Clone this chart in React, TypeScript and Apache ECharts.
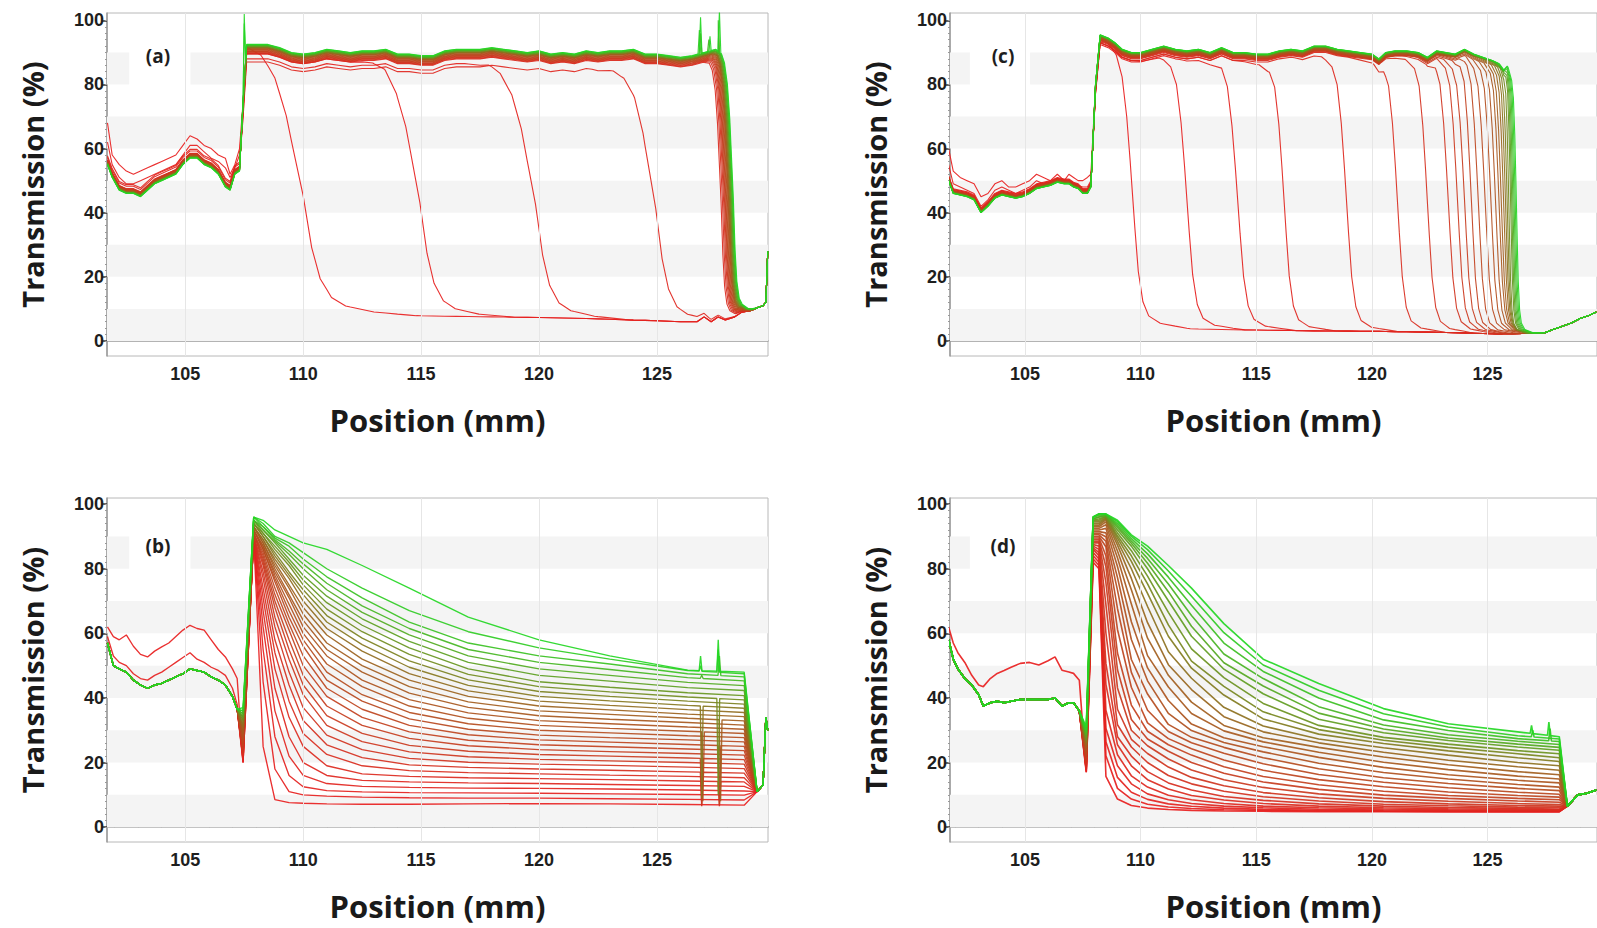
import React, { useEffect, useRef } from "react";
import * as echarts from "echarts";

// ---------------- shared axis values ----------------
const yTickValues = [0, 20, 40, 60, 80, 100];
const yMinorTicks = [0, 2, 4, 6, 8, 10, 12, 14, 16, 18, 20, 22, 24, 26, 28, 30, 32, 34, 36, 38, 40, 42, 44, 46, 48, 50, 52, 54, 56, 58, 60, 62, 64, 66, 68, 70, 72, 74, 76, 78, 80, 82, 84, 86, 88, 90, 92, 94, 96, 98, 100];
const xLabelValues = [105, 110, 115, 120, 125];
const xMinorTicks = [102, 103, 104, 105, 106, 107, 108, 109, 110, 111, 112, 113, 114, 115, 116, 117, 118, 119, 120, 121, 122, 123, 124, 125, 126, 127, 128, 129];
const bandRanges = [[0, 10], [20, 30], [40, 50], [60, 70]];
const gridLineValues = [105, 110, 115, 120, 125];

// ---------------- panel (a) ----------------
const aLeftX = [101.7, 101.9, 102.2, 102.5, 102.8, 103.1, 103.4, 103.7, 104.0, 104.3, 104.6, 104.9, 105.2, 105.5, 105.8, 106.1, 106.4, 106.7, 106.9, 107.1, 107.3];
const aLeftMain = [55, 51, 47, 46, 46, 45, 47, 49, 50, 51, 52, 55, 57, 57, 55, 54, 52, 48, 47, 52, 53];
const aLeftUpper = [68, 58, 55, 53, 52, 53, 54, 55, 56, 57, 58, 61, 64, 63, 61, 60, 58, 57, 52, 55, 60];
const aLeftSecond = [62, 55, 51, 49, 49, 50, 51, 52, 53, 54, 55, 58, 61, 61, 59, 57, 56, 54, 51, 54, 58];
const aPlatX = [107.45, 107.6, 108.0, 108.5, 109.0, 109.5, 110.0, 110.5, 111.0, 111.5, 112.0, 112.5, 113.0, 113.5, 114.0, 114.5, 115.0, 115.5, 116.0, 116.5, 117.0, 117.5, 118.0, 118.5, 119.0, 119.5, 120.0, 120.5, 121.0, 121.5, 122.0, 122.5, 123.0, 123.5, 124.0, 124.5, 125.0, 125.5, 126.0, 126.5, 127.0, 127.5, 127.9];
const aPlat = [75, 92.5, 92.5, 92.5, 91.5, 90, 89.5, 90, 91, 90.5, 90, 90.5, 90.5, 91, 89.5, 89.5, 89, 89, 90.5, 91, 91, 91, 91.5, 91, 90.5, 90, 90.5, 89.5, 90, 89.5, 90.5, 90, 90.5, 90.5, 91, 89.5, 89.5, 89, 88.5, 89, 90, 91, 90];
const aBotX = [108.5, 110, 111, 112, 113, 114, 116, 118, 120, 122, 124, 125, 126, 126.7, 127.0, 127.3, 127.6, 127.9, 128.3, 128.6, 129.0, 129.3, 129.5, 129.62, 129.7];
const aBot = [9.5, 9, 8.7, 8.4, 8.2, 8, 7.7, 7.5, 7.3, 7, 6.5, 6.3, 6, 6, 7.5, 6, 7.5, 6.5, 7.5, 9, 9.5, 10.5, 11, 12, 28];
const aFronts = [110.0, 114.95, 119.85, 124.95, 127.72, 127.78, 127.83, 127.87, 127.9, 127.93, 127.96, 127.99, 128.02, 128.04, 128.06, 128.08, 128.1, 128.12, 128.14, 128.16, 128.18, 128.2, 128.22, 128.24];
const aWidths = [1.2, 1.0, 1.0, 0.9, 0.25, 0.25, 0.25, 0.25, 0.25, 0.25, 0.25, 0.25, 0.25, 0.25, 0.25, 0.25, 0.25, 0.25, 0.25, 0.25, 0.25, 0.25, 0.25, 0.25];
const aOffsets = [0, 3, 4.5, 5.5, 3, 2.8, 2.6, 2.4, 2.2, 2, 1.8, 1.6, 1.4, 1.2, 1.1, 1, 0.9, 0.8, 0.6, 0.5, 0.4, 0.3, 0.1, 0];
const aDropT = [-3, -2, -1.5, -1, -0.6, -0.3, 0, 0.3, 0.6, 1, 1.5, 2.5, 4];
const aDropS = [1, 0.99, 0.96, 0.88, 0.75, 0.6, 0.45, 0.25, 0.13, 0.06, 0.03, 0.01, 0];
const aSpikes = [[23, 107.5, 102], [22, 107.5, 99], [23, 126.85, 101], [22, 126.8, 97], [23, 127.25, 95], [23, 127.65, 103], [21, 127.6, 100], [20, 127.2, 94], [19, 126.85, 96], [18, 127.62, 98]];

// ---------------- panel (c) ----------------
const cLeftX = [101.7, 101.9, 102.2, 102.5, 102.8, 103.1, 103.4, 103.7, 104.0, 104.3, 104.6, 104.9, 105.2, 105.5, 105.8, 106.1, 106.4, 106.7, 106.9, 107.1, 107.3, 107.5, 107.7, 107.85];
const cLeftMain = [50, 46, 45.5, 45, 44, 40, 42, 44.5, 45.5, 45, 44.5, 45, 46, 47.5, 48, 48.5, 49.5, 49, 49, 48, 47.5, 46, 46, 48];
const cLeftUpper = [60, 53, 51, 50, 49, 45, 46, 49, 50, 48, 48, 49, 50, 52, 51, 50, 52, 50, 52, 51, 50, 50, 51, 52];
const cLeftSecond = [55, 49, 48, 47, 46, 42, 44, 47, 48, 47, 46, 47, 48, 50, 49, 49.5, 50.5, 50, 50, 49, 48.5, 48, 48, 50];
const cPlatX = [108.05, 108.25, 108.6, 108.9, 109.2, 109.6, 110.0, 110.5, 111.0, 111.5, 112.0, 112.5, 113.0, 113.5, 114.0, 114.5, 115.0, 115.5, 116.0, 116.5, 117.0, 117.5, 118.0, 118.5, 119.0, 119.5, 120.0, 120.3, 120.6, 121.0, 121.5, 122.0, 122.4, 122.8, 123.2, 123.6, 124.0, 124.4, 124.8, 125.2, 125.5, 125.7, 125.85, 126.1];
const cPlat = [80, 95.5, 94.5, 93, 91, 90, 90, 91, 92, 91, 90.5, 91, 90, 91.5, 90, 90, 89.5, 89.5, 90.5, 91, 90.5, 92, 92, 91, 90.5, 90, 89.5, 88, 90, 90.5, 90.5, 90, 88.5, 90.5, 90, 89.5, 91, 89.5, 88.5, 87.5, 86.5, 85, 86.5, 84];
const cBotX = [109, 110.5, 112, 114, 116, 118, 120, 122, 124, 125.5, 126.5, 127.0, 127.5, 127.8, 128.2, 128.6, 129.0, 129.4, 129.7];
const cBot = [5, 4.3, 3.8, 3.5, 3.3, 3.1, 3, 2.8, 2.5, 2.2, 2.3, 2.5, 2.6, 3.5, 4.5, 5.5, 7, 8, 9];
const cFronts = [109.65, 112.0, 114.2, 116.2, 118.9, 121.1, 122.4, 123.3, 123.7, 124.0, 124.3, 124.6, 124.9, 125.15, 125.35, 125.5, 125.6, 125.7, 125.78, 125.85, 125.92, 126.0, 126.05, 126.1, 126.15, 126.2, 126.25];
const cWidths = [1, 1, 1, 0.9, 0.9, 0.85, 0.8, 0.8, 0.75, 0.75, 0.7, 0.7, 0.7, 0.65, 0.6, 0.55, 0.5, 0.45, 0.4, 0.35, 0.3, 0.3, 0.3, 0.3, 0.3, 0.3, 0.3];
const cOffsets = [0, 2.5, 3, 2.5, 2.5, 2, 1.8, 1.6, 1.5, 1.4, 1.3, 1.2, 1.1, 1, 0.9, 0.8, 0.7, 0.6, 0.5, 0.45, 0.4, 0.3, 0.25, 0.2, 0.1, 0.05, 0];
const cDropT = [-2.5, -1.2, -0.7, -0.45, -0.25, -0.1, 0, 0.1, 0.25, 0.45, 0.7, 1.2, 2.5];
const cDropS = [1, 0.99, 0.96, 0.9, 0.76, 0.6, 0.48, 0.36, 0.2, 0.09, 0.04, 0.015, 0];

// ---------------- panel (b) ----------------
const bLeftX = [101.7, 101.95, 102.2, 102.5, 102.8, 103.1, 103.4, 103.7, 104.0, 104.3, 104.6, 104.9, 105.2, 105.5, 105.8, 106.1, 106.4, 106.7, 107.0, 107.2];
const bLeftMain = [57, 50, 49, 48, 45.5, 44, 43, 44, 44.5, 45.5, 46.5, 47.5, 49, 48.5, 48, 46.5, 45.5, 44, 40.5, 36.5];
const bLeftUpper = [62, 59, 58, 59.5, 56, 53.5, 52.7, 54.5, 55.8, 57, 59, 61, 62.5, 61.5, 61, 58, 55, 52.7, 49, 46];
const bLeftSecond = [59, 53, 51, 50, 47.5, 46, 45.5, 47, 48, 49.5, 51, 52.5, 54, 52, 51, 49.5, 48.5, 47, 43, 38];
const bCols = [107.45, 107.9, 108.3, 108.8, 109.4, 110.0, 111.0, 112.5, 114.5, 117.0, 120.0, 123.0, 126.3, 128.7];
const bRows = [
  [20, 90, 25, 8.5, 7.6, 7.4, 7.2, 7.1, 7.1, 7.2, 7.3, 7.2, 7.0, 6.8],
  [20, 90, 45, 18, 11, 10, 9.6, 9.3, 9.1, 9.0, 9.0, 8.8, 8.6, 8.4],
  [20, 90, 55, 28, 16, 12.5, 11.3, 10.9, 10.7, 10.6, 10.5, 10.3, 10.1, 9.9],
  [21, 90, 62, 36, 22, 16, 13.5, 12.6, 12.3, 12.1, 12.0, 11.8, 11.5, 11.2],
  [21, 90, 67, 43, 28, 20, 16, 14.5, 14, 13.7, 13.5, 13.2, 12.9, 12.6],
  [22, 90, 71, 49, 34, 25, 19, 16.5, 15.7, 15.3, 15, 14.7, 14.3, 14],
  [22, 90, 74, 54, 39, 29, 22.5, 19, 17.5, 16.9, 16.5, 16.1, 15.7, 15.3],
  [23, 90, 77, 58, 44, 33, 25.5, 21.5, 19.3, 18.5, 18, 17.6, 17.1, 16.7],
  [23, 90, 79, 62, 48, 37, 28.5, 24, 21.3, 20.1, 19.5, 19.1, 18.6, 18.1],
  [24, 90, 81, 65, 52, 41, 31.5, 26.5, 23.3, 21.8, 21, 20.5, 20, 19.5],
  [24, 91, 82, 68, 55, 44, 34.5, 29, 25.3, 23.5, 22.5, 22, 21.4, 20.9],
  [25, 91, 83, 70, 58, 47, 37.5, 31.5, 27.5, 25.2, 24, 23.4, 22.8, 22.3],
  [25, 91, 84, 72, 61, 50, 40.5, 34, 29.5, 26.9, 25.5, 24.9, 24.2, 23.7],
  [26, 91, 85, 74, 63, 53, 43, 36.5, 31.5, 28.6, 27, 26.3, 25.6, 25],
  [27, 92, 86, 76, 65, 56, 45.5, 39, 33.5, 30.3, 28.5, 27.7, 27, 26.4],
  [27, 92, 86, 77, 67, 58, 48, 41, 35.5, 32, 30, 29.2, 28.3, 27.7],
  [28, 92, 87, 78, 69, 60, 50.5, 43.5, 37.5, 33.7, 31.5, 30.6, 29.7, 29],
  [29, 92, 87, 79, 71, 62, 53, 45.5, 39.5, 35.4, 33, 32, 31, 30.3],
  [29, 93, 88, 80, 72, 64, 55, 48, 41.5, 37.1, 34.5, 33.4, 32.4, 31.6],
  [30, 93, 88, 81, 74, 66, 57, 50, 43.5, 38.8, 36, 34.9, 33.7, 32.9],
  [31, 93, 89, 82, 75, 68, 59.5, 52, 45.5, 40.5, 37.5, 36.3, 35, 34.2],
  [31, 93, 89, 83, 77, 70, 61.5, 54.5, 47.5, 42.2, 39, 37.7, 36.4, 35.5],
  [32, 94, 90, 84, 78, 72, 63.5, 56.5, 49.5, 43.9, 40.5, 39.1, 37.7, 36.8],
  [33, 94, 90, 85, 79, 73.5, 65.5, 58.5, 51.5, 45.6, 42, 40.5, 39, 38.1],
  [33, 94, 91, 86, 81, 75, 67.5, 60.5, 53.5, 47.3, 43.5, 41.9, 40.3, 39.4],
  [34, 95, 91, 87, 82, 76.5, 69.5, 62.5, 55.5, 49, 45, 43.3, 41.6, 40.7],
  [34, 95, 92, 88, 83, 78, 71.5, 64.5, 57.5, 51, 47, 45.2, 43.2, 42.3],
  [35, 95, 92, 88.5, 84.5, 80, 73.5, 66.5, 59.5, 53, 49, 47, 44.8, 43.8],
  [35, 95, 93, 89, 85.5, 81.5, 75.5, 68.5, 61.5, 55, 51, 48.8, 46.3, 45.3],
  [36, 96, 93, 89.5, 87, 83, 77.5, 71, 63.5, 57, 53, 50.5, 47.5, 46.5],
  [36, 96, 94, 90, 88, 85, 80, 74, 67, 60.5, 55.5, 52, 48.5, 47.5],
  [37, 96, 95, 92, 90, 88, 86, 81, 74, 65, 58, 53, 48.6, 48],
];
const bTailX = [129.25, 129.5, 129.62, 129.7];
const bTail = [11, 13, 34, 30];
const bSpikes = [[31, 126.85, 53], [31, 127.6, 58], [30, 126.85, 50], [30, 127.6, 55], [29, 127.65, 53], [28, 126.9, 47], [10, 126.9, 7], [13, 127.65, 7], [16, 126.95, 8], [19, 127.7, 8], [22, 126.9, 9], [24, 127.6, 10], [7, 126.9, 6.5], [5, 127.65, 6.5]];

// ---------------- panel (d) ----------------
const dLeftX = [101.7, 101.9, 102.1, 102.4, 102.7, 103.0, 103.2, 103.5, 103.8, 104.1, 104.4, 104.8, 105.2, 105.6, 106.0, 106.3, 106.6, 106.9, 107.1, 107.35];
const dLeftMain = [58, 52, 49, 46, 44, 41, 37.5, 38.5, 39, 38.5, 39, 39.5, 39.5, 39.5, 39.5, 40, 37.5, 38.5, 38.5, 36];
const dLeftUpper = [62, 57, 54, 51, 47, 44, 43.5, 46, 47.6, 48.5, 49.5, 50.7, 51, 50.2, 51.5, 52.7, 48.6, 48, 47.6, 45.5];
const dCols = [107.65, 107.95, 108.2, 108.5, 109.0, 109.6, 110.3, 111.2, 112.2, 113.6, 115.3, 117.7, 120.5, 123.3, 126.3, 128.1];
const dRows = [
  [17, 82, 80, 15.7, 8.7, 6.7, 5.9, 5.45, 5.2, 5, 4.9, 4.8, 4.75, 4.7, 4.7, 4.7],
  [17, 83, 81, 22.1, 12, 8.7, 7.1, 6.25, 5.75, 5.4, 5.15, 5, 4.9, 4.85, 4.8, 4.8],
  [17.5, 84, 82, 26.4, 15.4, 10.8, 8.6, 7.2, 6.45, 5.9, 5.5, 5.25, 5.05, 4.95, 4.9, 4.9],
  [18, 85, 83, 30.6, 19, 13.4, 10.3, 8.5, 7.3, 6.5, 6, 5.55, 5.3, 5.15, 5, 5],
  [18, 86, 84, 36.2, 22.4, 15.9, 12.4, 9.9, 8.5, 7.3, 6.5, 6, 5.6, 5.4, 5.25, 5.2],
  [18.5, 86.5, 85, 44.2, 25.5, 19, 14.7, 11.8, 9.8, 8.4, 7.3, 6.5, 6, 5.7, 5.5, 5.4],
  [19, 87, 86, 50.7, 28, 22, 17.2, 13.7, 11.5, 9.5, 8.3, 7.2, 6.5, 6.1, 5.8, 5.6],
  [19.5, 87.5, 87, 60.1, 31.7, 24.8, 20, 16, 13.4, 11.1, 9.4, 8.1, 7.1, 6.6, 6.2, 6.1],
  [20, 88, 88, 68.9, 36.5, 27.2, 22.8, 18.6, 15.4, 12.8, 10.7, 9.1, 7.9, 7.2, 6.7, 6.5],
  [20.5, 88.5, 88.5, 75.7, 43.1, 30, 25.2, 21.1, 17.7, 14.7, 12.3, 10.3, 8.9, 8, 7.3, 7],
  [21, 89, 89, 80.6, 48.7, 33.3, 27.3, 23.5, 20, 16.7, 14, 11.7, 9.9, 8.9, 8.1, 7.7],
  [21.5, 89.5, 89.5, 84, 53.9, 37.8, 29.7, 25.5, 22.3, 18.7, 15.7, 13.1, 11.1, 9.8, 8.9, 8.5],
  [22, 90, 90, 86.8, 61.2, 43.3, 32.3, 27.4, 24.3, 20.8, 17.6, 14.7, 12.5, 10.9, 9.8, 9.3],
  [22.5, 90.5, 90.5, 88.5, 67.7, 47.9, 36.2, 29.6, 26.1, 22.9, 19.6, 16.3, 13.9, 12.2, 10.8, 10.2],
  [23, 91, 91, 89.9, 73.4, 51.9, 41.2, 31.8, 27.8, 24.7, 21.5, 18.1, 15.3, 13.5, 12, 11.3],
  [23.5, 91.5, 91.5, 91.1, 77.3, 58.1, 45.3, 35.2, 29.9, 26.2, 23.3, 19.8, 16.9, 14.9, 13.2, 12.4],
  [24, 92, 92, 92.5, 80.7, 63.6, 49.3, 39.2, 31.9, 27.7, 24.9, 21.6, 18.5, 16.2, 14.5, 13.7],
  [24.5, 92.5, 92.5, 93.6, 83.4, 69.1, 53.1, 43.4, 35.2, 29.8, 26.4, 23.2, 20.1, 17.8, 15.8, 14.9],
  [25, 93, 93, 94.5, 85.5, 73.5, 58.5, 47, 38.7, 31.5, 27.7, 24.7, 21.7, 19.3, 17.2, 16.2],
  [25.5, 93.5, 93.5, 95.1, 87.3, 77, 63.3, 50.3, 42.6, 34.2, 29.5, 26.1, 23.2, 20.7, 18.7, 17.6],
  [26, 94, 94, 95.5, 88.5, 80, 68.3, 54.3, 46.1, 37.1, 31.3, 27.3, 24.6, 22.3, 20, 19],
  [26.5, 94.5, 94.5, 95.8, 89.5, 82.3, 72.4, 59.1, 49.2, 40.9, 33.5, 28.8, 25.9, 23.6, 21.5, 20.3],
  [27, 95, 95, 96.1, 90.2, 84, 75.3, 62.6, 51.4, 43.6, 35.7, 30.2, 26.9, 24.7, 22.7, 21.5],
  [27.5, 95, 95.5, 96.2, 91.1, 85.6, 77.7, 66.5, 55.2, 46.3, 38.3, 31.5, 27.8, 25.7, 23.7, 22.7],
  [28, 95.5, 96, 96.4, 92, 87, 80, 70.1, 59.1, 48.9, 41.3, 33.4, 29.2, 26.8, 24.8, 23.8],
  [28.5, 95.5, 96, 96.6, 92.8, 87.9, 81.7, 72.9, 62.2, 50.9, 43.7, 35.3, 30.4, 27.6, 25.7, 24.7],
  [29, 96, 96.5, 96.7, 93.4, 88.6, 83.2, 75.3, 65.5, 53.6, 46, 37.3, 31.6, 28.6, 26.6, 25.6],
  [29.5, 96, 97, 96.8, 94, 89.3, 84.6, 77.4, 68.7, 57, 48.2, 40, 33.2, 29.9, 27.4, 26.5],
  [30, 96, 97, 96.9, 94.6, 90, 85.9, 79.3, 71.5, 60.2, 50.2, 42.4, 35.1, 31, 28.3, 27.3],
  [31, 96, 97, 97, 95, 90.5, 87, 81, 74, 63, 52, 44.5, 36.7, 32, 29.5, 28],
];
const dTailX = [128.45, 128.9, 129.3, 129.7];
const dTail = [6.5, 10, 10.5, 11.5];
const dSpikes = [[29, 126.9, 31.5], [29, 127.65, 32.5], [28, 126.95, 30], [27, 127.7, 30.5]];

// ---------------- helpers ----------------
function interp(xs: number[], ys: number[], x: number) {
  if (x <= xs[0]) return ys[0];
  const n = xs.length;
  if (x >= xs[n - 1]) return ys[n - 1];
  for (let k = 1; k < n; k++) {
    if (x <= xs[k]) {
      const f = (x - xs[k - 1]) / (xs[k] - xs[k - 1]);
      return ys[k - 1] + f * (ys[k] - ys[k - 1]);
    }
  }
  return ys[n - 1];
}

function addSpikes(pts: number[][], spikes: number[][], i: number) {
  pts.sort((u, v) => u[0] - v[0]);
  const xs = pts.map((p) => p[0]);
  const ys = pts.map((p) => p[1]);
  const extra: number[][] = [];
  spikes.forEach((sp) => {
    if (sp[0] !== i) return;
    const x = sp[1];
    extra.push([x - 0.06, interp(xs, ys, x - 0.06)], [x, sp[2]], [x + 0.06, interp(xs, ys, x + 0.06)]);
  });
  const all = pts.concat(extra);
  all.sort((u, v) => u[0] - v[0]);
  return all;
}

function curveColor(t: number) {
  const tt = Math.pow(t, 1.3);
  const stops: [number, number[]][] = [
    [0, [232, 30, 30]],
    [0.55, [160, 95, 30]],
    [1, [35, 215, 35]],
  ];
  let a = stops[0], b = stops[1];
  if (tt > stops[1][0]) { a = stops[1]; b = stops[2]; }
  const f = (tt - a[0]) / (b[0] - a[0]);
  const c = a[1].map((v, k) => Math.round(v + (b[1][k] - v) * f));
  return `rgb(${c[0]},${c[1]},${c[2]})`;
}

function lineSeries(pts: number[][], g: number, color: string, width: number) {
  return {
    type: "line",
    xAxisIndex: g,
    yAxisIndex: 2 * g,
    data: pts,
    showSymbol: false,
    symbol: "none",
    silent: true,
    clip: true,
    z: 3,
    lineStyle: { color, width, opacity: 0.92 },
    emphasis: { disabled: true },
  };
}

function stepCurves(g: number, p: any) {
  const n = p.fronts.length;
  const out: any[] = [];
  for (let i = 0; i < n; i++) {
    const left = i === 0 ? p.leftUpper : i === 1 ? p.leftSecond : p.leftMain;
    const lift = i <= 1 ? 0 : p.offsets[i] * 0.5;
    let pts: number[][] = p.leftX.map((x: number, k: number) => [x, left[k] + lift]);
    const start = p.platX[0];
    const set = new Set<number>();
    p.platX.forEach((x: number) => set.add(x));
    p.botX.forEach((x: number) => { if (x > start) set.add(x); });
    p.dropT.forEach((t: number) => {
      const x = +(p.fronts[i] + t * p.widths[i]).toFixed(3);
      if (x > start && x <= 129.75) set.add(x);
    });
    const xs = Array.from(set).sort((u, v) => u - v);
    for (const x of xs) {
      const top = interp(p.platX, p.plat, x) - p.offsets[i];
      const bot = interp(p.botX, p.bot, x);
      const s = interp(p.dropT, p.dropS, (x - p.fronts[i]) / p.widths[i]);
      pts.push([x, +(bot + (top - bot) * s).toFixed(2)]);
    }
    pts = addSpikes(pts, p.spikes, i);
    out.push(lineSeries(pts, g, curveColor(i / (n - 1)), 1.1));
  }
  return out;
}

function fanCurves(g: number, p: any, width: number) {
  const n = p.rows.length;
  const out: any[] = [];
  for (let i = 0; i < n; i++) {
    const left = i === 0 ? p.leftUpper : i === 1 && p.leftSecond ? p.leftSecond : p.leftMain;
    let pts: number[][] = p.leftX.map((x: number, k: number) => [x, left[k]]);
    p.cols.forEach((x: number, k: number) => pts.push([x, p.rows[i][k]]));
    p.tailX.forEach((x: number, k: number) => pts.push([x, p.tail[k]]));
    pts = addSpikes(pts, p.spikes, i);
    out.push(lineSeries(pts, g, curveColor(i / (n - 1)), width));
  }
  return out;
}

const labelFont = "'Liberation Sans Narrow', 'Liberation Sans', Arial, sans-serif";
const titleFont = "'Open Sans', 'DejaVu Sans', sans-serif";

const panels = [
  { grid: { left: 107, top: 13, width: 661, height: 343 }, xMin: 101.68, xMax: 129.71, yMin: -4.7, yMax: 102.3, label: "(a)", lx: 158, ly: 56 },
  { grid: { left: 950, top: 13, width: 661, height: 343 }, xMin: 101.76, xMax: 129.73, yMin: -4.7, yMax: 102.3, label: "(c)", lx: 1003, ly: 56 },
  { grid: { left: 107, top: 498, width: 661, height: 344 }, xMin: 101.68, xMax: 129.71, yMin: -4.6, yMax: 101.9, label: "(b)", lx: 158, ly: 546 },
  { grid: { left: 950, top: 498, width: 661, height: 344 }, xMin: 101.76, xMax: 129.73, yMin: -4.6, yMax: 101.9, label: "(d)", lx: 1003, ly: 546 },
];

function buildOption() {
  const axisColor = "#9a9a9a";
  const xAxis = panels.map((p, g) => ({
    type: "value",
    gridIndex: g,
    min: p.xMin,
    max: p.xMax,
    axisLine: { show: true, lineStyle: { color: axisColor, width: 1.5 } },
    axisTick: { show: true, customValues: xMinorTicks, length: 4, inside: true, lineStyle: { color: "#777" } },
    axisLabel: { customValues: xLabelValues, margin: 9, fontSize: 18, fontWeight: "bold", color: "#1e1e1e", fontFamily: labelFont },
    splitLine: { show: false },
    name: "Position (mm)",
    nameLocation: "middle",
    nameGap: 48,
    nameTextStyle: { fontSize: 31, fontWeight: "bold", color: "#1a1a1a", fontFamily: titleFont },
  }));
  const yAxis: any[] = [];
  panels.forEach((p, g) => {
    yAxis.push({
      type: "value",
      gridIndex: g,
      min: p.yMin,
      max: p.yMax,
      axisLine: { show: true, lineStyle: { color: axisColor, width: 1.5 } },
      axisTick: { show: true, customValues: yTickValues, length: 5, lineStyle: { color: "#333", width: 1.5 } },
      axisLabel: { customValues: yTickValues, margin: 3, fontSize: 18, fontWeight: "bold", color: "#1e1e1e", fontFamily: labelFont },
      splitLine: { show: false },
      name: "Transmission (%)",
      nameLocation: "middle",
      nameGap: 60,
      nameTextStyle: { fontSize: 29, fontWeight: "bold", color: "#1a1a1a", fontFamily: titleFont },
    });
    yAxis.push({
      type: "value",
      gridIndex: g,
      min: p.yMin,
      max: p.yMax,
      position: "left",
      axisLine: { show: false },
      axisTick: { show: true, customValues: yMinorTicks, length: 2, lineStyle: { color: "#999" } },
      axisLabel: { show: false },
      splitLine: { show: false },
    });
  });

  const helpers = panels.map((p, g) => ({
    type: "line",
    xAxisIndex: g,
    yAxisIndex: 2 * g,
    data: [],
    silent: true,
    z: 1,
    markArea: {
      silent: true,
      itemStyle: { color: "#f4f4f4" },
      data: [
        ...bandRanges.map((r) => [{ xAxis: p.xMin, yAxis: r[0] }, { xAxis: p.xMax, yAxis: r[1] }]),
        [{ xAxis: p.xMin, yAxis: 80 }, { xAxis: 102.62, yAxis: 90 }],
        [{ xAxis: 105.22, yAxis: 80 }, { xAxis: p.xMax, yAxis: 90 }],
      ],
    },
    markLine: {
      silent: true,
      symbol: ["none", "none"],
      label: { show: false },
      lineStyle: { color: "#e6e6e6", type: "solid", width: 1 },
      data: gridLineValues.map((v) => ({ xAxis: v })),
    },
  }));

  const series = [
    ...helpers,
    ...stepCurves(0, { leftX: aLeftX, leftMain: aLeftMain, leftUpper: aLeftUpper, leftSecond: aLeftSecond, platX: aPlatX, plat: aPlat, botX: aBotX, bot: aBot, fronts: aFronts, widths: aWidths, offsets: aOffsets, dropT: aDropT, dropS: aDropS, spikes: aSpikes }),
    ...stepCurves(1, { leftX: cLeftX, leftMain: cLeftMain, leftUpper: cLeftUpper, leftSecond: cLeftSecond, platX: cPlatX, plat: cPlat, botX: cBotX, bot: cBot, fronts: cFronts, widths: cWidths, offsets: cOffsets, dropT: cDropT, dropS: cDropS, spikes: [] }),
    ...fanCurves(2, { leftX: bLeftX, leftMain: bLeftMain, leftUpper: bLeftUpper, leftSecond: bLeftSecond, cols: bCols, rows: bRows, tailX: bTailX, tail: bTail, spikes: bSpikes }, 1.35),
    ...fanCurves(3, { leftX: dLeftX, leftMain: dLeftMain, leftUpper: dLeftUpper, leftSecond: null, cols: dCols, rows: dRows, tailX: dTailX, tail: dTail, spikes: dSpikes }, 1.6),
  ];

  const graphic = panels.map((p) => ({
    type: "text",
    x: p.lx,
    y: p.ly,
    z: 100,
    style: { text: p.label, fill: "#1e1e1e", font: `bold 19px ${titleFont}`, textAlign: "center", textVerticalAlign: "middle" },
  }));

  return {
    animation: false,
    backgroundColor: "#ffffff",
    grid: panels.map((p) => ({ ...p.grid, show: true, borderColor: "#b8b8b8", borderWidth: 1, backgroundColor: "transparent" })),
    xAxis,
    yAxis,
    series,
    graphic,
  };
}

export default function App() {
  const ref = useRef<HTMLDivElement>(null);
  useEffect(() => {
    document.body.style.margin = "0";
    if (!ref.current) return;
    const chart = echarts.init(ref.current, null, { renderer: "svg" });
    chart.setOption(buildOption() as any);
    return () => chart.dispose();
  }, []);
  return <div ref={ref} style={{ width: 1597, height: 928, background: "#fff" }} />;
}
